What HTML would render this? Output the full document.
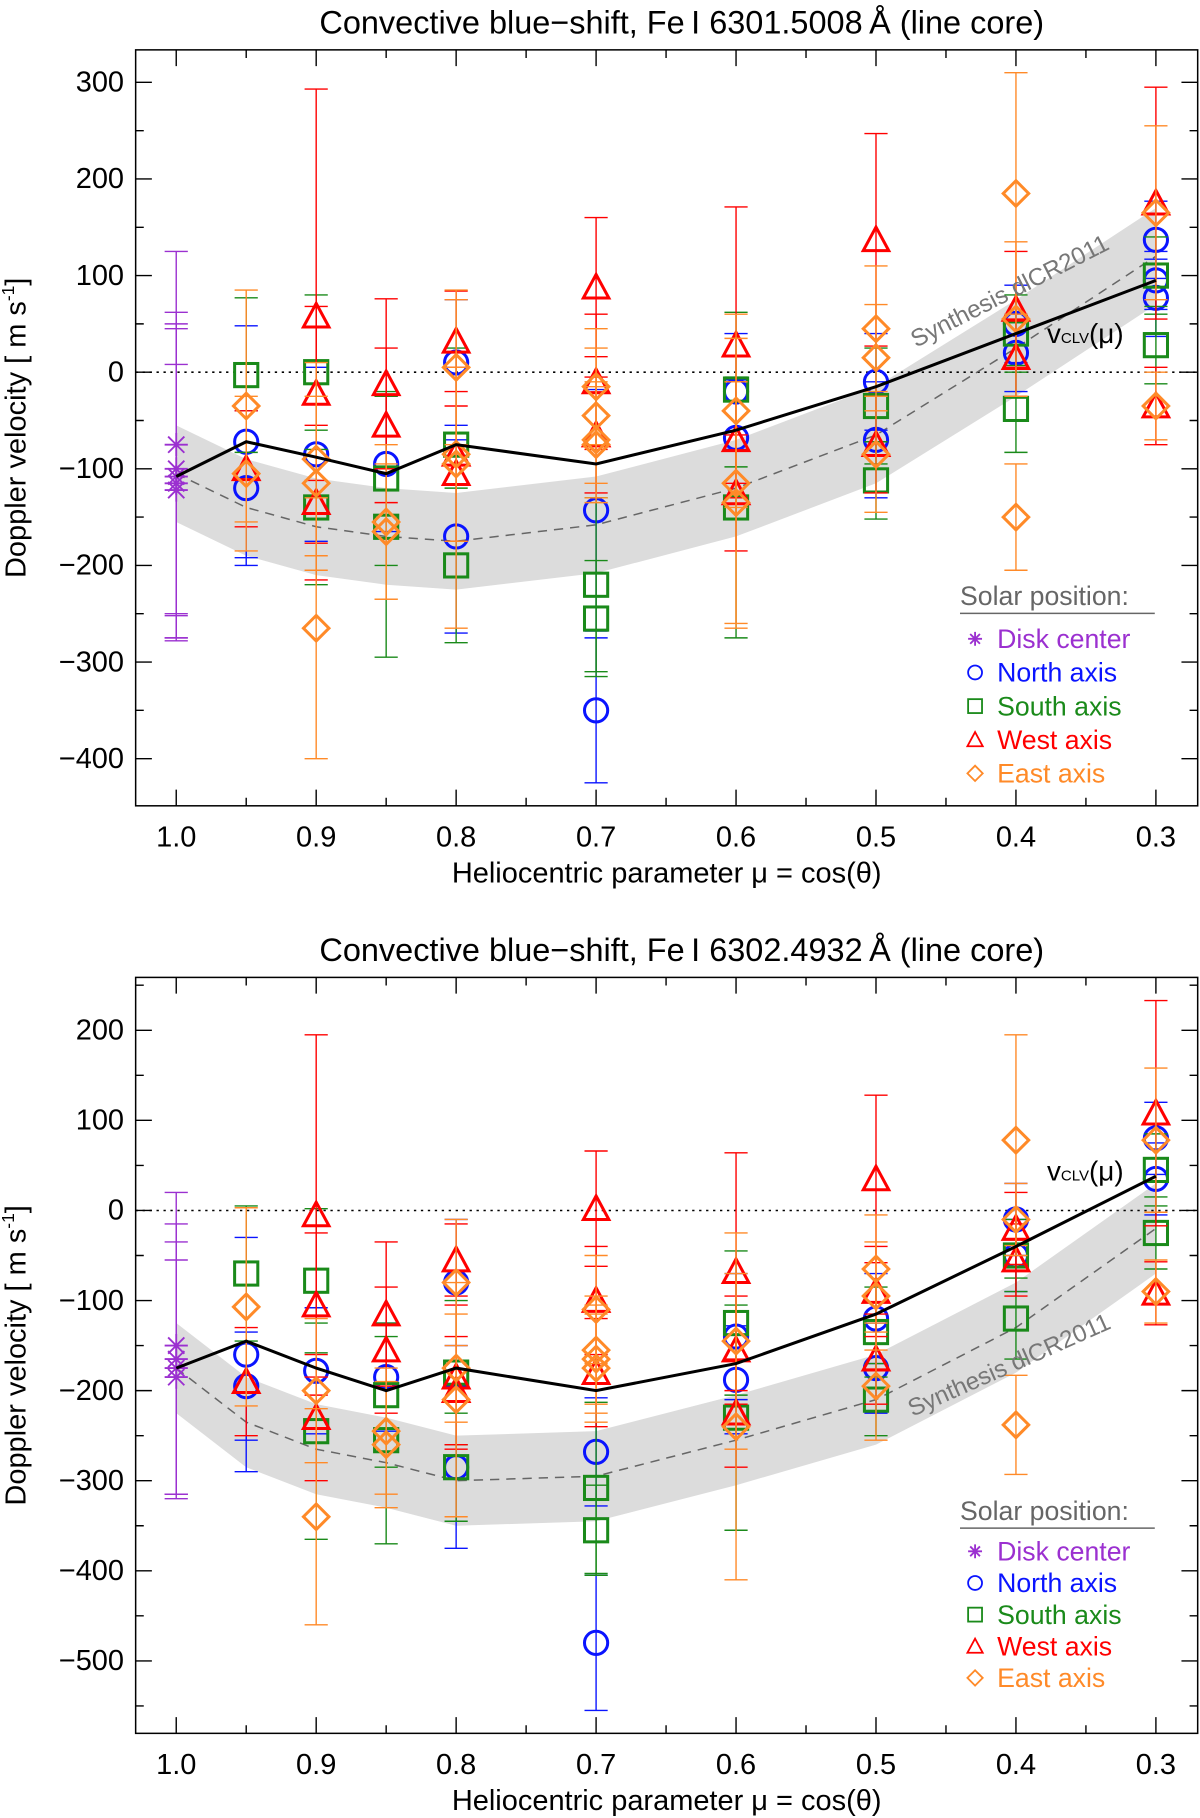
<!DOCTYPE html>
<html><head><meta charset="utf-8"><style>
html,body{margin:0;padding:0;background:#fff;}
svg{display:block;font-family:"Liberation Sans",sans-serif;}
</style></head><body>
<svg id="fig" width="1200" height="1818" viewBox="0 0 1035 1568" xmlns="http://www.w3.org/2000/svg">
</svg>
<script>
// ---------- data ----------
const muTicks = [1.0,0.9,0.8,0.7,0.6,0.5,0.4,0.3];
const clvMu = [1.0,0.95,0.9,0.85,0.8,0.7,0.6,0.5,0.4,0.3];
const clvTop = [-108,-72,-88,-105,-75,-95,-60,-15,40,95];
const synTop = [-105,-140,-160,-170,-175,-158,-120,-65,25,120];
const clvBot = [-175,-145,-175,-200,-175,-200,-170,-115,-40,38];
const synBot = [-175,-235,-265,-280,-300,-295,-255,-210,-130,-20];
const bandHalf = 50;
const yTicksTop = [300,200,100,0,-100,-200,-300,-400];
const yTicksBot = [200,100,0,-100,-200,-300,-400,-500];
// [mu, value, error]
const diskTop = [[1.0,-75,200],[1.0,-100,150],[1.0,-108,170],[1.0,-115,160],[1.0,-122,130]];
const northTop = [[0.95,-72,120],[0.95,-120,80],[0.9,-85,90],[0.85,-95,70],[0.8,-170,100],[0.8,10,65],[0.7,-143,125],[0.7,-350,75],[0.6,-20,60],[0.6,-68,60],[0.5,-10,50],[0.5,-70,60],[0.4,20,40],[0.4,50,40],[0.3,137,40],[0.3,77,40],[0.3,95,30]];
const southTop = [[0.95,-3,80],[0.9,0,80],[0.9,-140,80],[0.85,-110,90],[0.85,-160,135],[0.8,-75,100],[0.8,-200,80],[0.7,-220,90],[0.7,-255,60],[0.6,-18,80],[0.6,-140,135],[0.5,-35,60],[0.5,-112,40],[0.4,-38,45],[0.4,40,40],[0.3,100,40],[0.3,28,40]];
const westTop = [[0.95,-100,60],[0.9,58,235],[0.9,-22,90],[0.9,-135,80],[0.85,-12,88],[0.85,-55,80],[0.8,32,52],[0.8,-85,90],[0.8,-105,70],[0.7,88,72],[0.7,-10,70],[0.7,-65,60],[0.6,28,143],[0.6,-70,60],[0.6,-125,60],[0.5,137,110],[0.5,-75,50],[0.4,65,60],[0.4,15,40],[0.3,175,120],[0.3,-35,40]];
const eastTop = [[0.95,-35,120],[0.95,-105,80],[0.9,-265,135],[0.9,-90,100],[0.9,-115,90],[0.85,-155,80],[0.85,-165,70],[0.8,5,80],[0.8,-95,170],[0.8,-85,90],[0.7,-15,60],[0.7,-45,70],[0.7,-70,60],[0.7,-75,60],[0.6,-40,100],[0.6,-115,150],[0.6,-135,125],[0.5,45,65],[0.5,15,55],[0.5,-85,60],[0.4,185,125],[0.4,-150,55],[0.4,55,80],[0.3,165,90],[0.3,-35,35]];
const diskBot = [[1.0,-150,170],[1.0,-165,150],[1.0,-175,140],[1.0,-185,130]];
const northBot = [[0.95,-160,130],[0.95,-195,60],[0.9,-178,70],[0.85,-185,60],[0.8,-80,70],[0.8,-285,90],[0.7,-268,60],[0.7,-480,75],[0.6,-140,70],[0.6,-188,60],[0.5,-120,50],[0.5,-175,50],[0.4,-50,40],[0.4,-10,40],[0.3,80,40],[0.3,35,40]];
const southBot = [[0.95,-70,75],[0.9,-78,80],[0.9,-245,120],[0.85,-205,80],[0.85,-255,115],[0.8,-180,80],[0.8,-285,60],[0.7,-308,95],[0.7,-355,50],[0.6,-125,80],[0.6,-230,125],[0.5,-135,50],[0.5,-210,40],[0.4,-50,40],[0.4,-120,45],[0.3,45,40],[0.3,-25,40]];
const westBot = [[0.95,-190,60],[0.9,-5,200],[0.9,-105,80],[0.9,-230,70],[0.85,-115,80],[0.85,-155,70],[0.8,-55,40],[0.8,-185,80],[0.8,-200,60],[0.7,2,64],[0.7,-100,60],[0.7,-180,60],[0.6,-68,132],[0.6,-155,60],[0.6,-225,60],[0.5,35,93],[0.5,-90,50],[0.5,-165,50],[0.4,-20,40],[0.4,-55,40],[0.3,108,125],[0.3,-92,35]];
const eastBot = [[0.95,-107,110],[0.9,-340,120],[0.9,-200,80],[0.85,-245,70],[0.85,-260,70],[0.8,-80,70],[0.8,-175,60],[0.8,-210,130],[0.7,-110,60],[0.7,-155,60],[0.7,-165,60],[0.7,-175,60],[0.6,-145,120],[0.6,-240,170],[0.5,-65,60],[0.5,-95,60],[0.5,-195,60],[0.4,78,117],[0.4,-238,55],[0.4,-10,40],[0.3,78,80],[0.3,-90,35]];

// ---------- drawing ----------
const svg = document.getElementById('fig');
const NS = 'http://www.w3.org/2000/svg';
function mk(tag, attrs, parent){
  const e = document.createElementNS(NS, tag);
  for (const k in attrs) e.setAttribute(k, attrs[k]);
  (parent||svg).appendChild(e);
  return e;
}
const X0 = 117, X1 = 1033;
function xs(mu){ return 152 + (1 - mu) * 1207.1; }
const COL = {disk:'#9b30d0', north:'#0a14ff', south:'#1a8a1a', west:'#ff0000', east:'#ff8a28'};

function panel(p){
  const ys = v => p.y0 - v * p.k;
  const g = mk('g', {});
  
  
  // band
  let up = clvMu.map((m,i)=>xs(m)+','+ys(p.syn[i]+bandHalf));
  let dn = clvMu.map((m,i)=>xs(m)+','+ys(p.syn[i]-bandHalf)).reverse();
  const band = mk('polygon', {points: up.concat(dn).join(' '), fill:'#dcdcdc'}, g);
  
  
  // zero line
  const zl = mk('line', {x1:X0, x2:X1, y1:ys(0), y2:ys(0), stroke:'#000', 'stroke-width':1.3, 'stroke-dasharray':'2,4'}, g);
  
  
  // synthesis dashed
  const sl = mk('polyline', {points: clvMu.map((m,i)=>xs(m)+','+ys(p.syn[i])).join(' '), fill:'none', stroke:'#666', 'stroke-width':1.3, 'stroke-dasharray':'8,6'}, g);
  
  
  // series
  const series = [['disk',p.disk],['north',p.north],['south',p.south],['west',p.west],['east',p.east]];
  series.forEach(([s,arr])=>{
    arr.forEach(([m,v,e])=>{
      const x = xs(m), y = ys(v), c = COL[s];
      const eb = mk('path', {d:`M${x},${ys(v+e)}V${ys(v-e)}M${x-10},${ys(v+e)}h20M${x-10},${ys(v-e)}h20`, stroke:c, 'stroke-width':1.2, fill:'none'}, g);
      
      
      const sym = symbol(s, x, y, c, 1, g);
      
      
    });
  });
  // clv line
  const cl = mk('polyline', {points: clvMu.map((m,i)=>xs(m)+','+ys(p.clv[i])).join(' '), fill:'none', stroke:'#000', 'stroke-width':2.6}, g);
  
  
  // frame
  const fr = mk('rect', {x:X0, y:p.top, width:X1-X0, height:p.bot-p.top, fill:'none', stroke:'#000', 'stroke-width':1.3}, g);
  
  
  // x ticks
  for (let i=0;i<=14;i++){
    const m = 1.0 - i*0.05, x = xs(m), L = (i%2===0)?14:7;
    mk('path', {d:`M${x},${p.bot}v${-L}M${x},${p.top}v${L}`, stroke:'#000', 'stroke-width':1.2}, g);
  }
  muTicks.forEach(m=>{
    const t = mk('text', {x:xs(m), y:p.bot+35, 'font-size':25, 'text-anchor':'middle'}, g);
    t.textContent = m.toFixed(1);
    
    
  });
  // y ticks
  const tk = p.yt;
  for (let v = tk[tk.length-1]-50; v <= tk[0]+50; v+=50){
    const y = ys(v); if (y < p.top || y > p.bot) continue;
    const L = (v%100===0)?14:7;
    mk('path', {d:`M${X0},${y}h${L}M${X1},${y}h${-L}`, stroke:'#000', 'stroke-width':1.2}, g);
  }
  tk.forEach(v=>{
    const t = mk('text', {x:X0-10, y:ys(v)+8, 'font-size':25, 'text-anchor':'end'}, g);
    t.textContent = v < 0 ? '\u2212'+Math.abs(v) : String(v);
    
    
  });
  // title
  const ti = mk('text', {x:588, y:p.top-14, 'font-size':28, 'text-anchor':'middle'}, g);
  ti.textContent = p.title;
  
  
  const xl = mk('text', {x:575, y:p.bot+66, 'font-size':25, 'text-anchor':'middle'}, g);
  xl.textContent = 'Heliocentric parameter \u03bc = cos(\u03b8)';
  
  
  const yl = mk('text', {x:0, y:0, 'font-size':25, 'text-anchor':'middle', transform:`translate(22,${(p.top+p.bot)/2}) rotate(-90)`}, g);
  yl.innerHTML = 'Doppler velocity [ m s<tspan font-size="15" dy="-10">-1</tspan><tspan dy="10">]</tspan>';
  
  
  // labels
  const sy = mk('text', {x:0, y:0, 'font-size':21, fill:'#777', transform:`translate(${p.synX},${p.synY}) rotate(${p.synRot})`}, g);
  sy.textContent = 'Synthesis dlCR2011';
  
  
  const vl = mk('text', {x:903, y:p.vY, 'font-size':24}, g);
  vl.innerHTML = 'v<tspan font-size="13">CLV</tspan>(\u03bc)';
  
  
  // legend
  const lg = mk('g', {}, g);
  
  
  const lt = mk('text', {x:828, y:p.legY, 'font-size':23, fill:'#666'}, lg);
  lt.textContent = 'Solar position:';
  mk('line', {x1:828, x2:996, y1:p.legY+7, y2:p.legY+7, stroke:'#666', 'stroke-width':1.3}, lg);
  const names = [['disk','Disk center'],['north','North axis'],['south','South axis'],['west','West axis'],['east','East axis']];
  names.forEach(([s,n],i)=>{
    const y = p.legY + p.legStart + i*p.legStep;
    const e = mk('g', {}, lg);
    
    
    symbol(s, 841, y-8, COL[s], 0.6, e);
    const t = mk('text', {x:860, y:y, 'font-size':23, fill:COL[s]}, e);
    t.textContent = n;
  });
}
function symbol(s, x, y, c, sc, parent){
  const sw = 2.6*Math.max(sc,0.6);
  if (s==='disk'){
    const r = 10*sc;
    return mk('path', {d:`M${x-r},${y}h${2*r}M${x},${y-r}v${2*r}M${x-r*0.7},${y-r*0.7}l${1.4*r},${1.4*r}M${x-r*0.7},${y+r*0.7}l${1.4*r},${-1.4*r}`, stroke:c, 'stroke-width':1.6, fill:'none'}, parent);
  }
  if (s==='north') return mk('circle', {cx:x, cy:y, r:10*sc, fill:'none', stroke:c, 'stroke-width':sw}, parent);
  if (s==='south'){ const h=10*sc; return mk('rect', {x:x-h, y:y-h, width:2*h, height:2*h, fill:'none', stroke:c, 'stroke-width':sw}, parent); }
  if (s==='west'){ const h=11*sc; return mk('polygon', {points:`${x},${y-h} ${x+h},${y+h*0.85} ${x-h},${y+h*0.85}`, fill:'none', stroke:c, 'stroke-width':sw}, parent); }
  const h=11*sc; return mk('polygon', {points:`${x},${y-h} ${x+h},${y} ${x},${y+h} ${x-h},${y}`, fill:'none', stroke:c, 'stroke-width':sw}, parent);
}
panel({name:'top-panel', top:43, bot:695, y0:321, k:0.8333, syn:synTop, clv:clvTop, yt:yTicksTop,
  disk:diskTop, north:northTop, south:southTop, west:westTop, east:eastTop,
  title:'Convective blue\u2212shift, Fe\u2009I 6301.5008\u2009\u00c5 (line core)',
  synX:790, synY:300, synRot:-27, vY:296, legY:522, legStart:37, legStep:29});
panel({name:'bottom-panel', top:843, bot:1495, y0:1044, k:0.777, syn:synBot, clv:clvBot, yt:yTicksBot,
  disk:diskBot, north:northBot, south:southBot, west:westBot, east:eastBot,
  title:'Convective blue\u2212shift, Fe\u2009I 6302.4932\u2009\u00c5 (line core)',
  synX:787, synY:1222, synRot:-24, vY:1018, legY:1311, legStart:35, legStep:27.3});
</script>
</body></html>
